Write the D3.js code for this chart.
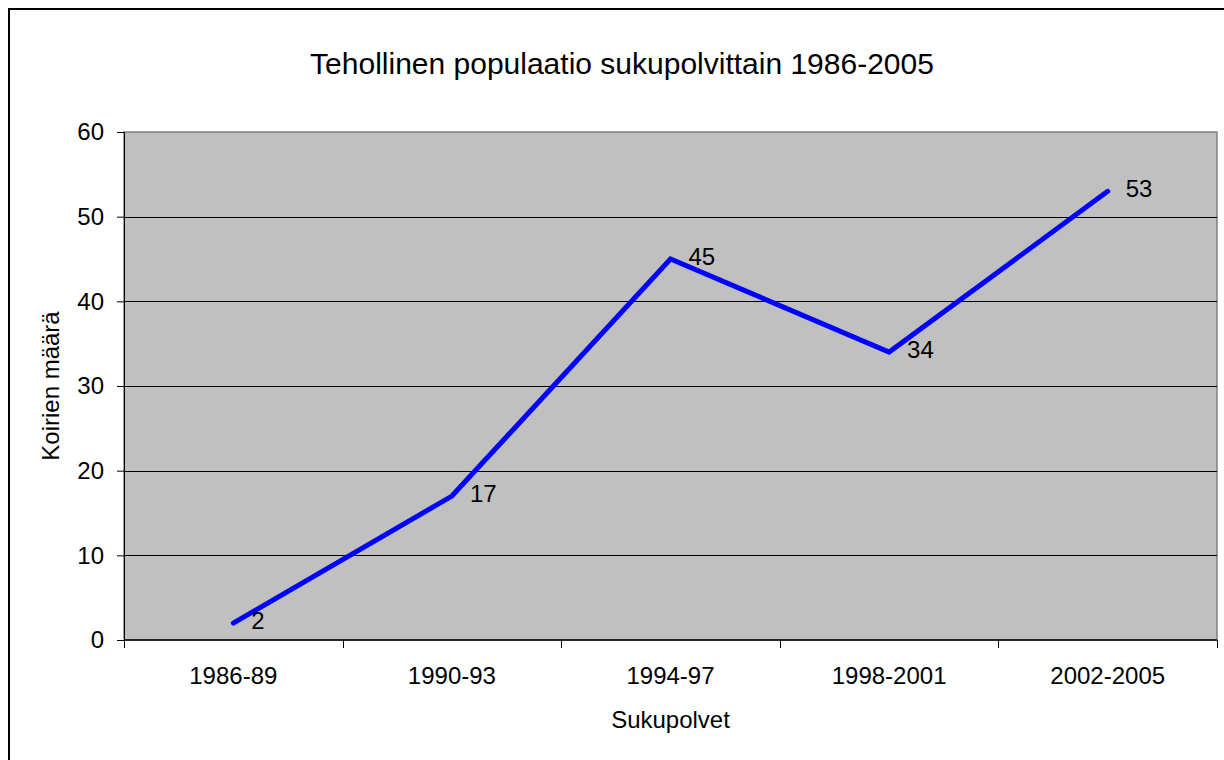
<!DOCTYPE html>
<html>
<head>
<meta charset="utf-8">
<script src="https://cdn.jsdelivr.net/npm/d3@7"></script>
<style>
  body { margin: 0; background: #fff; }
  svg { display: block; font-family: "Liberation Sans", Arial, sans-serif; }
</style>
</head>
<body>
<svg id="chart" width="1224" height="760"></svg>
<script>
// data
var categories = ["1986-89", "1990-93", "1994-97", "1998-2001", "2002-2005"];
var values = [2, 17, 45, 34, 53];
var yTicks = [0, 10, 20, 30, 40, 50, 60];

var svg = d3.select("#chart");
var margin = { top: 132, right: 7, bottom: 120, left: 124 };
var width = 1224 - margin.left - margin.right;
var height = 760 - margin.top - margin.bottom;

// outer frame (right and bottom edges fall outside the picture)
svg.append("rect")
    .attr("x", 9).attr("y", 9)
    .attr("width", 1224).attr("height", 760)
    .attr("fill", "#fff")
    .attr("stroke", "#000")
    .attr("stroke-width", 2);

var x = d3.scaleBand().domain(categories).range([0, width]);
var y = d3.scaleLinear().domain([0, 60]).range([height, 0]);

var g = svg.append("g")
    .attr("transform", "translate(" + margin.left + "," + margin.top + ")");

// plot background
g.append("rect")
    .attr("width", width).attr("height", height)
    .attr("fill", "#c0c0c0")
    .attr("stroke", "#808080")
    .attr("stroke-width", 1.5);

// gridlines
g.append("g").selectAll("line")
    .data(yTicks.filter(function (d) { return d > 0 && d < 60; }))
    .enter().append("line")
    .attr("x1", 0).attr("x2", width)
    .attr("y1", function (d) { return Math.round(y(d)) + 0.5; })
    .attr("y2", function (d) { return Math.round(y(d)) + 0.5; })
    .attr("stroke", "#000").attr("stroke-width", 1);

// y axis
var yAxis = g.append("g")
    .call(d3.axisLeft(y).tickValues(yTicks).tickSize(7).tickPadding(13));
yAxis.select(".domain").attr("stroke", "#000");
yAxis.selectAll("text").attr("font-size", 24).attr("fill", "#000").attr("font-family", null);

// x axis, ticks at category boundaries
var bounds = categories.map(function (c) { return x(c); }).concat([width]);
var xAxisG = g.append("g").attr("transform", "translate(0," + height + ")");
xAxisG.append("line")
    .attr("x1", 0).attr("x2", width)
    .attr("stroke", "#000").attr("stroke-width", 1.5);
xAxisG.selectAll(".tk").data(bounds).enter().append("line")
    .attr("class", "tk")
    .attr("x1", function (d) { return Math.round(d) + 0.5; })
    .attr("x2", function (d) { return Math.round(d) + 0.5; })
    .attr("y1", 0).attr("y2", 8)
    .attr("stroke", "#000");
xAxisG.selectAll(".lbl").data(categories).enter().append("text")
    .attr("class", "lbl")
    .attr("x", function (d) { return x(d) + x.bandwidth() / 2; })
    .attr("y", 44)
    .attr("text-anchor", "middle")
    .attr("font-size", 24)
    .text(function (d) { return d; });

// line
var line = d3.line()
    .x(function (d, i) { return x(categories[i]) + x.bandwidth() / 2; })
    .y(function (d) { return y(d); });
g.append("path")
    .datum(values)
    .attr("d", line)
    .attr("fill", "none")
    .attr("stroke", "#0000ff")
    .attr("stroke-width", 5)
    .attr("stroke-linecap", "round")
    .attr("stroke-linejoin", "miter");

// data labels
g.selectAll(".val").data(values).enter().append("text")
    .attr("class", "val")
    .attr("x", function (d, i) { return x(categories[i]) + x.bandwidth() / 2 + 18; })
    .attr("y", function (d) { return y(d) + 6; })
    .attr("font-size", 24)
    .text(function (d) { return d; });

// titles
svg.append("text")
    .attr("x", 622).attr("y", 74)
    .attr("text-anchor", "middle")
    .attr("font-size", 30)
    .text("Tehollinen populaatio sukupolvittain 1986-2005");

svg.append("text")
    .attr("x", margin.left + width / 2).attr("y", 728)
    .attr("text-anchor", "middle")
    .attr("font-size", 24)
    .text("Sukupolvet");

svg.append("text")
    .attr("transform", "translate(59," + (margin.top + height / 2) + ") rotate(-90)")
    .attr("text-anchor", "middle")
    .attr("font-size", 24)
    .text("Koirien määrä");
</script>
</body>
</html>
